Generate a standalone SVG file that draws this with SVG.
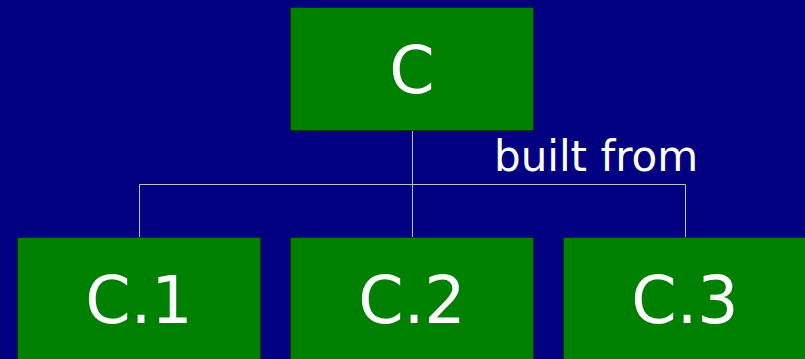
<svg xmlns="http://www.w3.org/2000/svg" width="805" height="359" viewBox="0 0 805 359">
<style>
.box{fill:#008000;stroke:#003000;stroke-width:1}
.lbl{fill:#ffffff;font-family:"DejaVu Sans",sans-serif;font-size:65px;text-anchor:middle}
.conn{fill:none;stroke:#c0c0c0;stroke-width:1}
.note{fill:#ffffff;font-family:"DejaVu Sans",sans-serif;font-size:42px}
</style>
<rect width="805" height="359" fill="#000080"/>
<g id="connectors">
<path class="conn" d="M412.5,131 V237.5 M139.5,237 V184.5 H685.5 V237"/>
<text class="note" x="494" y="171">built from</text>
</g>
<g id="node-C">
<rect class="box" x="290.5" y="7.5" width="243" height="123"/>
<text class="lbl" x="412" y="93">C</text>
</g>
<g id="node-C1">
<rect class="box" x="17.5" y="237.5" width="243" height="130"/>
<text class="lbl" x="139" y="323">C.1</text>
</g>
<g id="node-C2">
<rect class="box" x="290.5" y="237.5" width="243" height="130"/>
<text class="lbl" x="412" y="323">C.2</text>
</g>
<g id="node-C3">
<rect class="box" x="563.5" y="237.5" width="243" height="130"/>
<text class="lbl" x="685" y="323">C.3</text>
</g>
</svg>
